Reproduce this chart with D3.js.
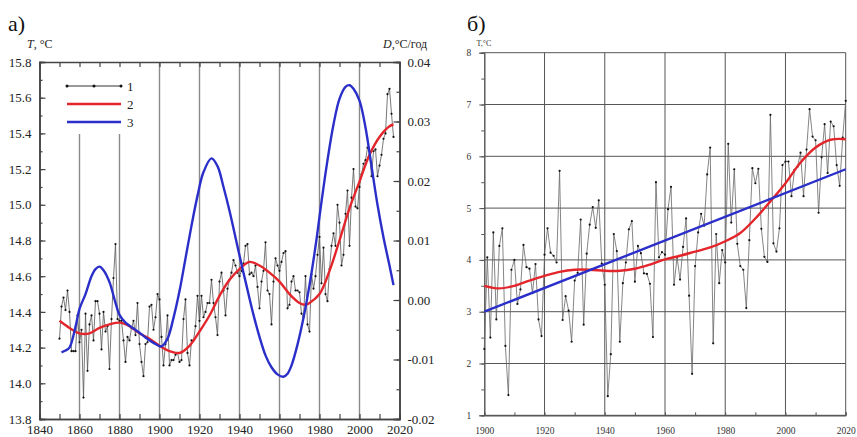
<!DOCTYPE html>
<html><head><meta charset="utf-8">
<script src="https://cdn.jsdelivr.net/npm/d3@7"></script>
<style>
body{margin:0;background:#fff;}
svg{display:block;font-family:"Liberation Serif","Times New Roman",serif;}
</style></head>
<body>
<svg id="c" width="857" height="437"></svg>
<script>
// ---------- DATA: panel а ----------
const yearsA = d3.range(1850, 2018);
const tempA = [
14.25,14.43,14.48,14.41,14.52,14.40,14.18,14.18,14.18,14.38,
14.23,14.30,13.92,14.39,14.07,14.33,14.38,14.24,14.46,14.46,
14.39,14.19,14.40,14.29,14.32,14.08,14.36,14.59,14.78,14.36,
14.35,14.35,14.24,14.12,14.26,14.24,14.31,14.35,14.27,14.45,
14.22,14.12,14.04,14.22,14.23,14.43,14.44,14.30,14.37,14.50,
14.47,14.26,14.10,14.22,14.38,14.10,14.13,14.13,14.16,14.17,
14.12,14.13,14.36,14.47,14.17,14.10,14.24,14.24,14.32,14.49,
14.35,14.49,14.37,14.40,14.45,14.45,14.58,14.45,14.37,14.27,
14.57,14.62,14.52,14.38,14.53,14.58,14.62,14.69,14.66,14.62,
14.60,14.63,14.67,14.77,14.78,14.61,14.62,14.60,14.66,14.54,
14.42,14.57,14.63,14.79,14.52,14.50,14.33,14.57,14.70,14.66,
14.63,14.68,14.73,14.74,14.42,14.44,14.57,14.60,14.52,14.52,
14.51,14.39,14.37,14.60,14.33,14.29,14.61,14.53,14.60,14.72,
14.82,14.56,14.76,14.50,14.46,14.64,14.77,14.84,14.77,15.00,
14.90,14.66,14.72,14.95,15.08,14.77,15.04,15.20,14.99,14.98,
15.10,15.17,15.23,15.25,15.32,15.30,15.16,15.30,15.31,15.16,
15.22,15.28,15.37,15.40,15.62,15.65,15.51,15.38
];
const smoothYearsA = [1850,1855,1860,1865,1870,1875,1880,1885,1890,1895,1900,1905,1910,1915,1920,1925,1930,1935,1940,1945,1950,1955,1960,1965,1970,1973,1975,1980,1985,1990,1995,2000,2005,2010,2015,2017];
const smoothA = [14.35,14.31,14.28,14.28,14.31,14.33,14.34,14.32,14.28,14.25,14.21,14.18,14.17,14.21,14.29,14.38,14.49,14.58,14.64,14.68,14.66,14.62,14.57,14.50,14.45,14.44,14.45,14.50,14.63,14.80,14.98,15.13,15.28,15.38,15.44,15.45];
const rateYearsA = [1851,1853,1855,1858,1860,1863,1866,1868,1870,1872,1875,1878,1880,1883,1887,1890,1893,1897,1901,1904,1907,1910,1913,1916,1919,1922,1926,1929,1932,1935,1938,1941,1944,1947,1950,1953,1956,1959,1962,1964,1966,1969,1972,1975,1978,1981,1984,1987,1990,1993,1995,1997,2000,2003,2006,2009,2012,2015,2017];
const rateA = [-0.0088,-0.0085,-0.0080,-0.0045,-0.0015,0.0010,0.0040,0.0052,0.0056,0.0050,0.0030,-0.0005,-0.0025,-0.0038,-0.0048,-0.0055,-0.0063,-0.0072,-0.0078,-0.0065,-0.0030,0.0015,0.0070,0.0125,0.0175,0.0215,0.0238,0.0225,0.0190,0.0150,0.0105,0.0060,0.0017,-0.0025,-0.0062,-0.0093,-0.0113,-0.0125,-0.0129,-0.0124,-0.0110,-0.0075,-0.0030,0.0025,0.0090,0.0165,0.0235,0.0295,0.0338,0.0358,0.0361,0.0355,0.0335,0.0290,0.0225,0.0160,0.0105,0.0058,0.0025];
const xTicksA = d3.range(1840, 2021, 20);
const yTicksA = d3.range(13.8, 15.81, 0.2).map(v => +v.toFixed(1));
const dTicksA = [-0.02,-0.01,0.00,0.01,0.02,0.03,0.04];
const legendA = ["1","2","3"];

// ---------- DATA: panel б ----------
const yearsB = d3.range(1900, 2021);
const tempB = [
2.28,4.05,2.50,4.53,2.85,4.27,4.61,2.34,1.39,3.81,
4.00,3.15,3.43,4.29,3.86,3.83,3.36,3.92,2.85,2.53,
4.10,4.61,4.14,4.08,3.95,5.72,2.84,3.30,3.02,2.42,
3.60,3.75,4.78,2.75,4.12,4.68,5.02,4.62,5.15,3.93,
3.52,1.37,2.18,4.50,4.17,2.42,3.55,3.95,4.59,4.75,
3.58,4.27,4.13,3.74,3.73,3.54,2.51,5.50,4.05,4.15,
4.10,4.98,5.41,3.52,4.05,3.62,4.25,4.80,3.31,1.80,
3.88,4.53,4.89,4.66,5.65,6.17,2.39,4.50,3.55,4.19,
3.95,6.24,4.72,5.75,4.31,3.88,3.81,3.07,4.38,5.77,
5.48,5.76,4.60,4.06,3.96,6.80,4.32,4.16,4.61,5.83,
5.90,5.90,5.23,5.74,5.80,6.07,5.23,6.13,6.91,6.38,
6.31,4.91,5.98,6.62,5.68,6.67,6.58,5.83,5.43,6.36,
7.07
];
const smoothYearsB = [1900,1905,1910,1915,1920,1925,1930,1935,1940,1945,1950,1955,1960,1965,1970,1975,1980,1985,1990,1995,2000,2005,2010,2015,2020];
const smoothB = [3.50,3.45,3.50,3.60,3.69,3.77,3.81,3.81,3.79,3.79,3.83,3.91,4.01,4.08,4.16,4.24,4.36,4.52,4.80,5.13,5.48,5.88,6.17,6.32,6.33];
const trendYearsB = [1900, 2020];
const trendB = [3.00, 5.75];
const xTicksB = d3.range(1900, 2021, 20);
const yTicksB = d3.range(1, 9);

// ---------- DRAW ----------
const svg = d3.select("#c");
const RED = "#e3262b", BLUE = "#2b2fc9";
const SERIF = "'Liberation Serif', 'Times New Roman', serif";

// ===== Panel а =====
const xA = d3.scaleLinear().domain([1840, 2020]).range([39.5, 399.5]);
const yA = d3.scaleLinear().domain([13.8, 15.8]).range([419, 62]);
const dA = d3.scaleLinear().domain([-0.02, 0.04]).range([419, 62]);

const gA = svg.append("g");
gA.selectAll("line.vg").data(d3.range(1860, 2001, 20)).join("line")
  .attr("x1", d => xA(d)).attr("x2", d => xA(d))
  .attr("y1", d => d < 1890 ? 134 : 62).attr("y2", 419)
  .attr("stroke", "#8a8a8a").attr("stroke-width", 1.4);

const fmtNone = () => "";
gA.append("g").attr("transform", "translate(0,419)")
  .call(d3.axisBottom(xA).tickValues(d3.range(1840, 2021, 10)).tickSize(-5).tickFormat(fmtNone));
gA.append("g").attr("transform", "translate(0,419)")
  .call(d3.axisBottom(xA).tickValues(xTicksA).tickSize(0).tickPadding(6).tickFormat(d3.format("d")));
gA.append("g").attr("transform", "translate(0,62)")
  .call(d3.axisTop(xA).tickValues(d3.range(1840, 2021, 10)).tickSize(-5).tickFormat(fmtNone));
gA.append("g").attr("transform", "translate(39.5,0)")
  .call(d3.axisLeft(yA).tickValues(d3.range(13.8, 15.81, 0.1)).tickSize(-3).tickFormat(fmtNone));
gA.append("g").attr("transform", "translate(39.5,0)")
  .call(d3.axisLeft(yA).tickValues(yTicksA).tickSize(-6).tickPadding(8).tickFormat(d => d.toFixed(1)));
gA.append("g").attr("transform", "translate(399.5,0)")
  .call(d3.axisRight(dA).tickValues(d3.range(-0.02, 0.0401, 0.005)).tickSize(-3).tickFormat(fmtNone));
gA.append("g").attr("transform", "translate(399.5,0)")
  .call(d3.axisRight(dA).tickValues(dTicksA).tickSize(-6).tickPadding(8).tickFormat(d => d.toFixed(2)));
gA.selectAll(".domain").attr("stroke", "#444").attr("stroke-width", 1.5);
gA.selectAll(".tick line").attr("stroke", "#444").attr("stroke-width", 1.2);
gA.selectAll(".tick text").attr("font-size", 13).attr("fill", "#222").attr("font-family", SERIF);

const lineA = d3.line().x((d, i) => xA(yearsA[i])).y(d => yA(d));
gA.append("path").attr("d", lineA(tempA)).attr("fill", "none")
  .attr("stroke", "#555").attr("stroke-width", 0.8);
gA.selectAll("circle.p").data(tempA).join("circle")
  .attr("cx", (d, i) => xA(yearsA[i])).attr("cy", d => yA(d)).attr("r", 1.1).attr("fill", "#111");
gA.append("path")
  .attr("d", d3.line().curve(d3.curveCatmullRom.alpha(0.5)).x((d, i) => xA(smoothYearsA[i])).y(d => yA(d))(smoothA))
  .attr("fill", "none").attr("stroke", RED).attr("stroke-width", 2.4);
gA.append("path")
  .attr("d", d3.line().curve(d3.curveCatmullRom.alpha(0.5)).x((d, i) => xA(rateYearsA[i])).y(d => dA(d))(rateA))
  .attr("fill", "none").attr("stroke", BLUE).attr("stroke-width", 2.4);

const leg = gA.append("g");
const legY = [86, 104, 122];
leg.append("line").attr("x1", 67).attr("x2", 121).attr("y1", legY[0]).attr("y2", legY[0]).attr("stroke", "#333").attr("stroke-width", 1);
leg.selectAll("circle").data([67, 94, 121]).join("circle").attr("cx", d => d).attr("cy", legY[0]).attr("r", 1.5).attr("fill", "#111");
leg.append("line").attr("x1", 67).attr("x2", 121).attr("y1", legY[1]).attr("y2", legY[1]).attr("stroke", RED).attr("stroke-width", 2.4);
leg.append("line").attr("x1", 67).attr("x2", 121).attr("y1", legY[2]).attr("y2", legY[2]).attr("stroke", BLUE).attr("stroke-width", 2.4);
leg.selectAll("text").data(legendA).join("text")
  .attr("x", 127).attr("y", (d, i) => legY[i] + 4.5).attr("font-size", 13).attr("fill", "#222")
  .attr("font-family", SERIF).text(d => d);

svg.append("text").attr("x", 8).attr("y", 31).attr("font-size", 22).attr("fill", "#111").attr("font-family", SERIF).text("а)");
const tl = svg.append("text").attr("x", 27).attr("y", 48).attr("font-size", 12).attr("fill", "#222").attr("font-family", SERIF);
tl.append("tspan").attr("font-style", "italic").text("T");
tl.append("tspan").text(", °C");
const tr = svg.append("text").attr("x", 383).attr("y", 48).attr("font-size", 12).attr("fill", "#222").attr("font-family", SERIF);
tr.append("tspan").attr("font-style", "italic").text("D");
tr.append("tspan").text(",°C/год");

// ===== Panel б =====
const xB = d3.scaleLinear().domain([1900, 2020]).range([484.3, 845.7]);
const yB = d3.scaleLinear().domain([1, 8]).range([415.3, 52.7]);
const gB = svg.append("g");
gB.selectAll("line.hg").data(yTicksB).join("line")
  .attr("x1", xB(1900)).attr("x2", xB(2020)).attr("y1", d => yB(d)).attr("y2", d => yB(d))
  .attr("stroke", "#555").attr("stroke-width", 1);
gB.selectAll("line.vg").data(xTicksB.filter(d => d > 1900)).join("line")
  .attr("x1", d => xB(d)).attr("x2", d => xB(d)).attr("y1", yB(8)).attr("y2", yB(1))
  .attr("stroke", "#555").attr("stroke-width", 1);
gB.append("g").attr("transform", `translate(${xB(1900)},0)`)
  .call(d3.axisLeft(yB).tickValues(d3.range(1, 8.01, 0.5)).tickSize(3).tickFormat(fmtNone));
gB.append("g").attr("transform", `translate(${xB(1900)},0)`)
  .call(d3.axisLeft(yB).tickValues(yTicksB).tickSize(5).tickPadding(8).tickFormat(d3.format("d")));
gB.append("g").attr("transform", `translate(0,${yB(1)})`)
  .call(d3.axisBottom(xB).tickValues(d3.range(1900, 2021, 10)).tickSize(-3).tickFormat(fmtNone));
gB.append("g").attr("transform", `translate(0,${yB(1)})`)
  .call(d3.axisBottom(xB).tickValues(xTicksB).tickSize(0).tickPadding(12).tickFormat(d3.format("d")));
gB.selectAll(".domain").attr("stroke", "#555").attr("stroke-width", 1);
gB.selectAll(".tick line").attr("stroke", "#555");
gB.selectAll(".tick text").attr("font-size", 9.5).attr("fill", "#333").attr("font-family", SERIF);

gB.append("path").attr("d", d3.line().x((d, i) => xB(yearsB[i])).y(d => yB(d))(tempB))
  .attr("fill", "none").attr("stroke", "#666").attr("stroke-width", 0.8);
gB.selectAll("circle.p").data(tempB).join("circle")
  .attr("cx", (d, i) => xB(yearsB[i])).attr("cy", d => yB(d)).attr("r", 1.1).attr("fill", "#111");
gB.append("path")
  .attr("d", d3.line().curve(d3.curveCatmullRom.alpha(0.5)).x((d, i) => xB(smoothYearsB[i])).y(d => yB(d))(smoothB))
  .attr("fill", "none").attr("stroke", RED).attr("stroke-width", 2.4);
gB.append("path")
  .attr("d", d3.line().x((d, i) => xB(trendYearsB[i])).y(d => yB(d))(trendB))
  .attr("fill", "none").attr("stroke", BLUE).attr("stroke-width", 2.4);

svg.append("text").attr("x", 467).attr("y", 31).attr("font-size", 22).attr("fill", "#111").attr("font-family", SERIF).text("б)");
svg.append("text").attr("x", 484).attr("y", 46).attr("text-anchor", "middle").attr("font-size", 8).attr("fill", "#333").attr("font-family", SERIF).text("T,°C");
</script>
</body></html>
